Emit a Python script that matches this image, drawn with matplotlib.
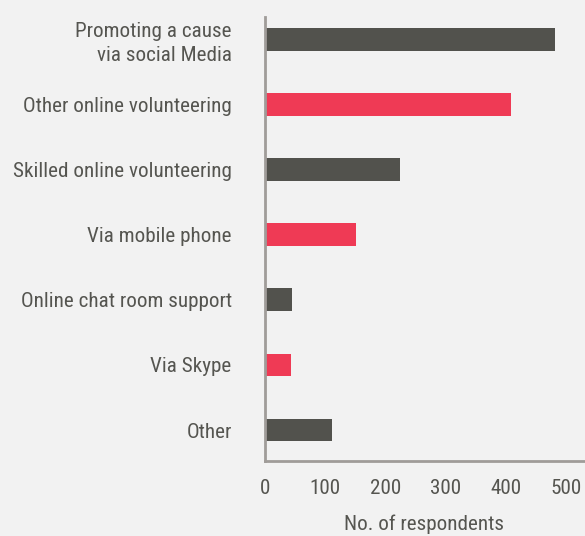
import matplotlib.pyplot as plt
from matplotlib import font_manager

# data
labels = ["Promoting a cause\nvia social Media", "Other online volunteering",
          "Skilled online volunteering", "Via mobile phone",
          "Online chat room support", "Via Skype", "Other"]
values = [482, 409, 224, 151, 45, 43, 112]
xticks = [0, 100, 200, 300, 400, 500]

dark = '#52524d'
red = '#ef3a55'
bg = '#f2f2f2'
txt = '#555550'
axis_col = '#a09c99'

# pick a condensed face if one is installed, else a narrow-ish regular one
fonts = font_manager.fontManager.ttflist
names = {f.name for f in fonts}
font, fsize = dict(family='Roboto'), 12.6
for cand in ['Roboto Condensed', 'Liberation Sans Narrow', 'Open Sans Condensed']:
    if cand in names:
        font, fsize = dict(family=cand), 15.2
        break
else:
    if any(f.name == 'DejaVu Sans' and f.stretch == 'condensed' for f in fonts):
        font, fsize = dict(family='DejaVu Sans', stretch='condensed'), 13.5
    elif 'Roboto' not in names:
        font = dict(family='DejaVu Sans')
        fsize = 11.5

fig = plt.figure(figsize=(5.85, 5.36), dpi=100, facecolor=bg)
ax = fig.add_axes([265 / 585, 1 - 461 / 536, 1 - 265 / 585, (461 - 17) / 536])
ax.set_facecolor(bg)

ypos = list(range(len(labels)))
colors = [dark if i % 2 == 0 else red for i in ypos]
ax.barh(ypos, values, height=0.35, color=colors)

ax.set_xlim(0, 320 / 0.602)
ax.set_ylim(6.476, -0.345)

for s in ['top', 'right']:
    ax.spines[s].set_visible(False)
for s in ['left', 'bottom']:
    ax.spines[s].set_color(axis_col)
    ax.spines[s].set_linewidth(2)

ax.set_yticks(ypos)
ax.set_yticklabels(labels, color=txt, fontsize=fsize, linespacing=1.3, **font)
ax.set_xticks(xticks)
ax.set_xticklabels([str(t) for t in xticks], color=txt, fontsize=fsize, **font)
ax.tick_params(axis='y', length=0, pad=24)
ax.tick_params(axis='x', length=0, pad=13)
ax.set_xlabel('No. of respondents', color=txt, fontsize=fsize, **font)
ax.xaxis.set_label_coords((423.5 - 265) / 320, -0.12)

fig.savefig('out.png', dpi=100, facecolor=bg)
